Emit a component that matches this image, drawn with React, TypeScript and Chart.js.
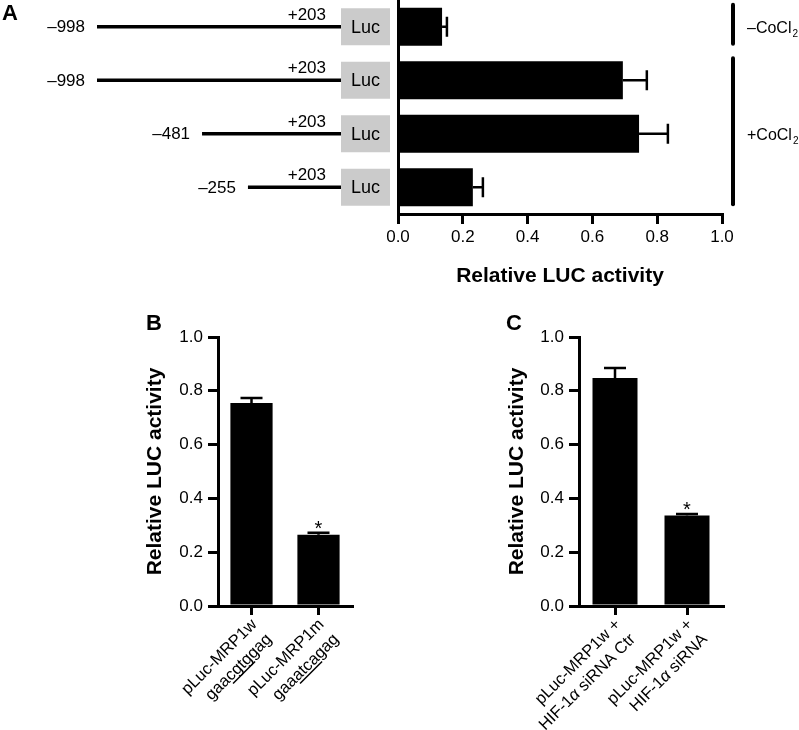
import React, { useEffect, useRef } from 'react';
import { Chart, registerables } from 'chart.js';

Chart.register(...registerables);

const FONT = "'Liberation Sans', Arial, Helvetica, sans-serif";
const W = 799;
const H = 730;

// ---------------- Panel A data ----------------
const aRowKeys = ['−998/+203 −CoCl2', '−998/+203 +CoCl2', '−481/+203 +CoCl2', '−255/+203 +CoCl2'];
const aStarts = [-998, -998, -481, -255];
const aEnd = 203;
const aValues = [0.136, 0.694, 0.744, 0.231];
const aErrors = [0.015, 0.074, 0.089, 0.031];
const aTicks = [0, 0.2, 0.4, 0.6, 0.8, 1.0];
const aGroupNames = ['–CoCl', '+CoCl'];
const aGroupFrom = [0, 1];
const aGroupTo = [0, 3];

// ---------------- Panel B data ----------------
const bLine1 = ['pLuc-MRP1w', 'pLuc-MRP1m'];
const bLine2 = ['gaacgtggag', 'gaaatcagag'];
const bUnderline = [[3, 7], [3, 7]];
const bValues = [0.755, 0.265];
const bErrors = [0.018, 0.007];
const bStars = ['', '*'];

// ---------------- Panel C data ----------------
const cLine1 = ['pLuc-MRP1w +', 'pLuc-MRP1w +'];
const cLine2 = ['HIF-1α siRNA Ctr', 'HIF-1α siRNA'];
const cValues = [0.848, 0.336];
const cErrors = [0.037, 0.006];
const cStars = ['', '*'];

const yTicks = [0, 0.2, 0.4, 0.6, 0.8, 1.0];
const yTitle = 'Relative LUC activity';

// ---------------- helpers ----------------
type Seg = { t: string; u: boolean; i: boolean };

function segsFor(text: string, ul?: number[]): Seg[] {
  const segs: Seg[] = [];
  let cur: Seg | null = null;
  for (let k = 0; k < text.length; k++) {
    const ch = text[k];
    const u = !!ul && k >= ul[0] && k < ul[1];
    const it = ch === 'α';
    if (cur && cur.u === u && cur.i === it) cur.t += ch;
    else {
      cur = { t: ch, u, i: it };
      segs.push(cur);
    }
  }
  return segs;
}

function drawSegsRight(ctx: CanvasRenderingContext2D, segs: Seg[], rightX: number, baseY: number, size: number) {
  const fontN = `${size}px ${FONT}`;
  const fontI = `italic ${size}px ${FONT}`;
  const widths = segs.map((s) => {
    ctx.font = s.i ? fontI : fontN;
    return ctx.measureText(s.t).width;
  });
  let x = rightX - widths.reduce((a, b) => a + b, 0);
  ctx.textAlign = 'left';
  ctx.textBaseline = 'alphabetic';
  segs.forEach((s, k) => {
    ctx.font = s.i ? fontI : fontN;
    ctx.fillText(s.t, x, baseY);
    if (s.u) ctx.fillRect(x, baseY + 2, widths[k], 1.5);
    x += widths[k];
  });
}

const fmtBp = (bp: number) => (bp < 0 ? '–' + Math.abs(bp) : '+' + bp);

const errorBarPlugin = {
  id: 'errorBars',
  afterDatasetsDraw(chart: any) {
    const ctx = chart.ctx as CanvasRenderingContext2D;
    const horizontal = chart.options.indexAxis === 'y';
    const meta = chart.getDatasetMeta(0);
    const ds = chart.data.datasets[0] as any;
    const vs = horizontal ? chart.scales.x : chart.scales.y;
    ctx.save();
    ctx.strokeStyle = '#000';
    ctx.fillStyle = '#000';
    ctx.lineWidth = 2.5;
    meta.data.forEach((bar: any, i: number) => {
      const v = ds.data[i];
      const e = ds.errors[i];
      const end = vs.getPixelForValue(v + e);
      ctx.beginPath();
      if (horizontal) {
        ctx.moveTo(bar.x, bar.y);
        ctx.lineTo(end, bar.y);
        ctx.moveTo(end, bar.y - 10);
        ctx.lineTo(end, bar.y + 10);
      } else {
        ctx.moveTo(bar.x, bar.y);
        ctx.lineTo(bar.x, end);
        ctx.moveTo(bar.x - 11, end);
        ctx.lineTo(bar.x + 11, end);
      }
      ctx.stroke();
      if (ds.stars && ds.stars[i]) {
        ctx.font = `20px ${FONT}`;
        ctx.textAlign = 'center';
        ctx.textBaseline = 'alphabetic';
        ctx.fillText(ds.stars[i], bar.x, end + 2);
      }
    });
    ctx.restore();
  },
};

const constructPlugin = {
  id: 'constructs',
  afterDraw(chart: any) {
    const ctx = chart.ctx as CanvasRenderingContext2D;
    const ys = chart.scales.y;
    const bpMin = Math.min(...aStarts);
    const L = 97;
    const R = 341;
    const bpToPx = (bp: number) => L + ((bp - bpMin) * (R - L)) / (aEnd - bpMin);
    ctx.save();
    ctx.fillStyle = '#000';
    ctx.font = `bold 22px ${FONT}`;
    ctx.textAlign = 'left';
    ctx.textBaseline = 'alphabetic';
    ctx.fillText('A', 2, 20);

    aStarts.forEach((st, i) => {
      const cy = ys.getPixelForValue(i);
      const x0 = bpToPx(st);
      const x1 = bpToPx(aEnd);
      ctx.strokeStyle = '#000';
      ctx.lineWidth = 3.5;
      ctx.beginPath();
      ctx.moveTo(x0, cy);
      ctx.lineTo(x1, cy);
      ctx.stroke();
      ctx.fillStyle = '#cbcbcb';
      ctx.fillRect(x1, cy - 18.5, 49, 37);
      ctx.fillStyle = '#000';
      ctx.font = `18px ${FONT}`;
      ctx.textAlign = 'center';
      ctx.textBaseline = 'middle';
      ctx.fillText('Luc', x1 + 24.5, cy + 1);
      ctx.font = `17px ${FONT}`;
      ctx.textAlign = 'right';
      ctx.fillText(fmtBp(st), x0 - 12, cy + 1);
      ctx.textBaseline = 'alphabetic';
      ctx.fillText(fmtBp(aEnd), x1 - 15, cy - 7);
    });

    // brackets
    const bx = 733;
    aGroupNames.forEach((name, g) => {
      const top = ys.getPixelForValue(aGroupFrom[g]) - 24;
      const bot = ys.getPixelForValue(aGroupTo[g]) + 19;
      ctx.strokeStyle = '#000';
      ctx.lineWidth = 4;
      ctx.lineCap = 'round';
      ctx.beginPath();
      ctx.moveTo(bx, top + 2);
      ctx.lineTo(bx, bot - 2);
      ctx.stroke();
      const mid = (ys.getPixelForValue(aGroupFrom[g]) + ys.getPixelForValue(aGroupTo[g])) / 2;
      ctx.font = `16px ${FONT}`;
      ctx.textAlign = 'left';
      ctx.textBaseline = 'alphabetic';
      ctx.fillStyle = '#000';
      const base = mid + 6;
      ctx.fillText(name, 747, base);
      const w = ctx.measureText(name).width;
      ctx.font = `10px ${FONT}`;
      ctx.fillText('2', 747 + w + 1, base + 4);
    });
    ctx.restore();
  },
};

function panelPlugin(letter: string, letterX: number, line1: string[], line2: string[], underline?: number[][]) {
  return {
    id: 'panelDecor',
    afterDraw(chart: any) {
      const ctx = chart.ctx as CanvasRenderingContext2D;
      const xs = chart.scales.x;
      const ys = chart.scales.y;
      ctx.save();
      ctx.fillStyle = '#000';
      ctx.font = `bold 22px ${FONT}`;
      ctx.textAlign = 'left';
      ctx.textBaseline = 'alphabetic';
      ctx.fillText(letter, letterX, ys.top - 7);
      line1.forEach((l, i) => {
        const px = xs.getPixelForValue(i);
        ctx.save();
        ctx.translate(px + 2, ys.bottom + 15);
        ctx.rotate(-Math.PI / 4);
        drawSegsRight(ctx, segsFor(l), 0, 6, 16.5);
        drawSegsRight(ctx, segsFor(line2[i], underline ? underline[i] : undefined), 0, 27, 16.5);
        ctx.restore();
      });
      ctx.restore();
    },
  };
}

function barConfig(
  line1: string[],
  line2: string[],
  values: number[],
  errors: number[],
  stars: string[],
  area: { left: number; right: number; top: number; bottom: number },
  yWidth: number,
  barPct: number,
  plugin: any
): any {
  return {
    type: 'bar',
    data: {
      labels: line1.map((l, i) => [l, line2[i]]),
      datasets: [
        {
          data: values,
          errors,
          stars,
          backgroundColor: '#000',
          borderWidth: 0,
          barPercentage: barPct,
          categoryPercentage: 1,
        },
      ],
    },
    options: {
      responsive: false,
      maintainAspectRatio: false,
      animation: false,
      devicePixelRatio: 1,
      events: [],
      layout: {
        padding: { left: area.left - yWidth, right: W - area.right, top: area.top, bottom: H - area.bottom },
      },
      plugins: { legend: { display: false }, tooltip: { enabled: false } },
      scales: {
        x: {
          type: 'category',
          ticks: { display: false },
          grid: { display: true, offset: false, drawOnChartArea: false, drawTicks: true, tickLength: 9, lineWidth: 3, tickWidth: 3, color: '#000' },
          border: { display: true, width: 3, color: '#000' },
          afterFit: (s: any) => {
            s.height = 0;
          },
        },
        y: {
          type: 'linear',
          min: 0,
          max: 1,
          afterBuildTicks: (s: any) => {
            s.ticks = yTicks.map((v) => ({ value: v }));
          },
          ticks: {
            font: { size: 17, family: FONT },
            color: '#000',
            padding: 5,
            callback: (v: any) => Number(v).toFixed(1),
          },
          grid: { display: true, drawOnChartArea: false, drawTicks: true, tickLength: 10, lineWidth: 3, tickWidth: 3, color: '#000' },
          border: { display: true, width: 3, color: '#000' },
          title: { display: true, text: yTitle, font: { size: 21, weight: 'bold', family: FONT }, color: '#000', padding: 0 },
          afterFit: (s: any) => {
            s.width = yWidth;
          },
        },
      },
    },
    plugins: [errorBarPlugin, plugin],
  };
}

function configA(): any {
  return {
    type: 'bar',
    data: {
      labels: aRowKeys,
      datasets: [
        {
          data: aValues,
          errors: aErrors,
          backgroundColor: '#000',
          borderWidth: 0,
          barPercentage: 0.71,
          categoryPercentage: 1,
        },
      ],
    },
    options: {
      indexAxis: 'y',
      responsive: false,
      maintainAspectRatio: false,
      animation: false,
      devicePixelRatio: 1,
      events: [],
      layout: { padding: { left: 398, right: W - 722, top: 0, bottom: H - 214 - 75 } },
      plugins: { legend: { display: false }, tooltip: { enabled: false } },
      scales: {
        y: {
          type: 'category',
          grid: { display: false },
          ticks: { display: false },
          border: { display: true, width: 3, color: '#000' },
          afterFit: (s: any) => {
            s.width = 0;
          },
        },
        x: {
          type: 'linear',
          min: 0,
          max: 1,
          afterBuildTicks: (s: any) => {
            s.ticks = aTicks.map((v) => ({ value: v }));
          },
          ticks: {
            font: { size: 17, family: FONT },
            color: '#000',
            padding: 3,
            maxRotation: 0,
            callback: (v: any) => Number(v).toFixed(1),
          },
          grid: { display: true, drawOnChartArea: false, drawTicks: true, tickLength: 10, lineWidth: 3, tickWidth: 3, color: '#000' },
          border: { display: true, width: 3, color: '#000' },
          title: { display: true, text: yTitle, font: { size: 21, weight: 'bold', family: FONT }, color: '#000', padding: 0 },
          afterFit: (s: any) => {
            s.height = 75;
          },
        },
      },
    },
    plugins: [errorBarPlugin, constructPlugin],
  };
}

export default function App() {
  const aRef = useRef<HTMLCanvasElement>(null);
  const bRef = useRef<HTMLCanvasElement>(null);
  const cRef = useRef<HTMLCanvasElement>(null);

  useEffect(() => {
    const charts: Chart[] = [];
    if (aRef.current) charts.push(new Chart(aRef.current, configA()));
    if (bRef.current)
      charts.push(
        new Chart(
          bRef.current,
          barConfig(bLine1, bLine2, bValues, bErrors, bStars, { left: 218, right: 352, top: 337, bottom: 606 }, 75, 0.63,
            panelPlugin('B', 146, bLine1, bLine2, bUnderline))
        )
      );
    if (cRef.current)
      charts.push(
        new Chart(
          cRef.current,
          barConfig(cLine1, cLine2, cValues, cErrors, cStars, { left: 579, right: 723, top: 337, bottom: 606 }, 74, 0.625,
            panelPlugin('C', 506, cLine1, cLine2))
        )
      );
    return () => charts.forEach((c) => c.destroy());
  }, []);

  const cs: React.CSSProperties = { position: 'absolute', left: 0, top: 0 };
  return (
    <div style={{ position: 'absolute', left: 0, top: 0, width: W, height: H, background: '#fff', overflow: 'hidden' }}>
      <canvas ref={aRef} width={W} height={H} style={cs} />
      <canvas ref={bRef} width={W} height={H} style={cs} />
      <canvas ref={cRef} width={W} height={H} style={cs} />
    </div>
  );
}
